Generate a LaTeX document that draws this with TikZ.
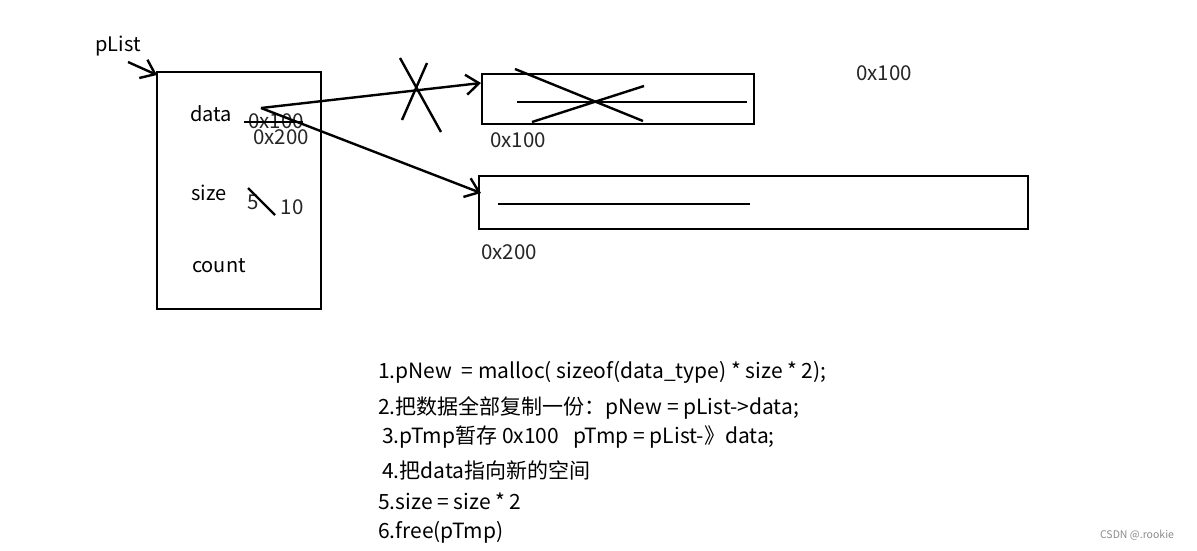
\documentclass[tikz,border=0pt]{standalone}
\usepackage{fontspec}
\setmainfont{Noto Sans CJK SC}
\usetikzlibrary{arrows.meta}
\begin{document}
\begin{tikzpicture}[x=1pt,y=-1pt,
  ln/.style={line width=2.4pt,black},
  boxn/.style={draw,line width=2.4pt,inner sep=0pt,rectangle},
  lbl/.style={font=\fontsize{20}{23}\selectfont,inner sep=0pt},
  addr/.style={font=\fontsize{20.5}{23}\selectfont,inner sep=0pt,text=black!85},
  stepline/.style={font=\fontsize{21}{24}\selectfont,inner sep=0pt,anchor=west},
  barb/.style={-{Straight Barb[length=13pt,width=20pt,line width=2.4pt]}}
]
\useasboundingbox (0,0) rectangle (1197,550);
\fill[white] (0,0) rectangle (1197,550);

% main struct box
\node[boxn,minimum width=164pt,minimum height=237pt] (plistbox) at (239,190.5) {};
\node[lbl] (plist) at (118,46) {pList};
\coordinate (pa) at (128,62);
\coordinate (pb) at (157,75);
\draw[ln,barb] (pa) -- (pb);

\node[lbl] (data) at (211,114) {data};
\node[lbl] (size) at (209,193) {size};
\node[lbl] (count) at (219,266) {count};

\node[addr] (old) at (276,121) {0x100};
\node[addr] (new) at (281,137) {0x200};
\coordinate (s1) at (244,122);
\coordinate (s2) at (303,122);
\draw[ln] (s1) -- (s2);

\node[addr] (five) at (253,202) {5};
\node[addr] (ten) at (292,207) {10};
\coordinate (f1) at (248,188);
\coordinate (f2) at (275,215);
\draw[ln] (f1) -- (f2);

% old array
\node[boxn,minimum width=272pt,minimum height=50pt] (arr1) at (618,99) {};
\node[addr] (a1lbl) at (518,140) {0x100};
\node[addr] (toplbl) at (884,73) {0x100};
\coordinate (i1a) at (517,102);
\coordinate (i1b) at (747,102);
\draw[ln] (i1a) -- (i1b);
\coordinate (c1a) at (515,69);
\coordinate (c1b) at (643,121);
\coordinate (c2a) at (532,122);
\coordinate (c2b) at (644,86);
\draw[ln] (c1a) -- (c1b);
\draw[ln] (c2a) -- (c2b);

% new array
\node[boxn,minimum width=549pt,minimum height=53pt] (arr2) at (753.5,202.5) {};
\node[addr] (a2lbl) at (509,252) {0x200};
\coordinate (i2a) at (498,204);
\coordinate (i2b) at (750,204);
\draw[ln] (i2a) -- (i2b);

% pointers
\coordinate (dp) at (261,108);
\coordinate (t1) at (481,83);
\coordinate (t2) at (481,193);
\draw[ln,barb] (dp) -- (t1);
\draw[ln,barb] (dp) -- (t2);

% cross on old pointer
\coordinate (x1a) at (400,58);
\coordinate (x1b) at (441,132);
\coordinate (x2a) at (427,63);
\coordinate (x2b) at (402,120);
\draw[ln] (x1a) -- (x1b);
\draw[ln] (x2a) -- (x2b);

% steps
\node[stepline] (st1) at (378,372) {1.pNew\ \ = malloc( sizeof(data\_type) * size * 2);};
\node[stepline] (st2) at (378,408) {2.把数据全部复制一份：pNew = pList->data;};
\node[stepline] (st3) at (382,437) {3.pTmp暂存 0x100\ \ \ pTmp = pList-》data;};
\node[stepline] (st4) at (382,470) {4.把data指向新的空间};
\node[stepline] (st5) at (378,501) {5.size = size * 2};
\node[stepline] (st6) at (378,532) {6.free(pTmp)};

\node[font=\fontsize{10.5}{12}\selectfont,text=black!45,inner sep=0pt] (wm) at (1137,535) {CSDN @.rookie};
\end{tikzpicture}
\end{document}
